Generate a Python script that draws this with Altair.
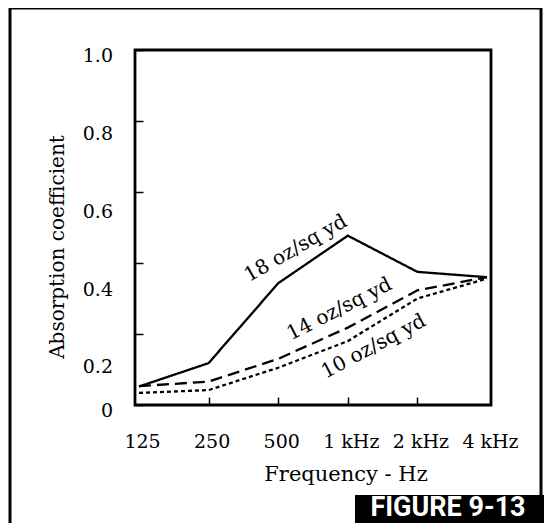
import altair as alt
import pandas as pd

# ---- data ----
freq_labels = ["125", "250", "500", "1 kHz", "2 kHz", "4 kHz"]
series_names = ["18 oz/sq yd", "14 oz/sq yd", "10 oz/sq yd"]
s18 = [0.052, 0.118, 0.343, 0.477, 0.375, 0.360]
s14 = [0.053, 0.066, 0.130, 0.218, 0.323, 0.360]
s10 = [0.034, 0.042, 0.105, 0.180, 0.300, 0.356]

y_tick_values = [0.0, 0.1, 0.2, 0.3, 0.4, 0.5, 0.6, 0.7, 0.8, 0.9, 1.0]
y_label_values = [1.0, 0.8, 0.6, 0.4, 0.2, 0.0]
y_label_texts = ["1.0", "0.8", "0.6", "0.4", "0.2", "0"]

curve_label_x = [2.25, 2.88, 3.37]
curve_label_y = [0.441, 0.270, 0.165]
curve_label_angle = [330, 333, 332]

y_title = "Absorption coefficient"
x_title = "Frequency - Hz"
figure_tag = "FIGURE 9-13"

# ---- tables ----
rows = []
for name, vals in zip(series_names, [s18, s14, s10]):
    for i, v in enumerate(vals):
        rows.append({"series": name, "idx": i, "value": v})
df = pd.DataFrame(rows)

ylab_df = pd.DataFrame({"v": y_label_values, "t": y_label_texts})
clab_df = pd.DataFrame({"name": series_names, "cx": curve_label_x,
                        "cy": curve_label_y, "ang": curve_label_angle})
one = pd.DataFrame({"k": [0]})

W, H = 356, 355
SERIF = "DejaVu Serif"

x_scale = alt.Scale(domain=[-0.0575, 5.0575], nice=False, zero=False)
y_scale = alt.Scale(domain=[0, 1], nice=False, zero=False)

label_expr = "[" + ",".join("'%s'" % l for l in freq_labels) + "][datum.value]"

x_axis = alt.Axis(
    values=list(range(len(freq_labels))), labelExpr=label_expr, orient="bottom",
    offset=-8, tickSize=8, tickWidth=1.5, tickColor="black", domain=False,
    grid=False, labelFont=SERIF, labelFontSize=19, labelColor="black",
    labelPadding=27, labelOffset=3, labelFlush=False, title=None,
    tickOpacity={"condition": {"test": "datum.value == 0 || datum.value == 5", "value": 0}, "value": 1},
)
y_axis = alt.Axis(
    values=y_tick_values, orient="left", offset=-8, tickSize=8, tickWidth=1.5,
    tickColor="black", domain=False, grid=False, labels=False, title=None,
)

lines = alt.Chart(df).mark_line(color="black", strokeWidth=2.3).encode(
    x=alt.X("idx:Q", scale=x_scale, axis=x_axis),
    y=alt.Y("value:Q", scale=y_scale, axis=y_axis),
    strokeDash=alt.StrokeDash("series:N", scale=alt.Scale(domain=series_names,
                              range=[[1, 0], [12, 6], [4, 3]]), legend=None),
    detail="series:N",
)

ylabels = alt.Chart(ylab_df).transform_calculate(
    pos="datum.v > 0 ? datum.v * 1.095 - 0.113 : -0.017"
).mark_text(align="right", baseline="middle", font=SERIF, fontSize=19, color="black").encode(
    x=alt.value(-22),
    y=alt.Y("pos:Q", scale=y_scale),
    text="t:N",
)

ytitle = alt.Chart(one).mark_text(
    text=y_title, angle=270, align="center", baseline="middle",
    font=SERIF, fontSize=20, color="black"
).encode(x=alt.value(-77), y=alt.value(197))

xtitle = alt.Chart(one).mark_text(
    text=x_title, align="center", baseline="alphabetic",
    font=SERIF, fontSize=21, color="black"
).encode(x=alt.value(211), y=alt.value(431))

clabels = alt.Chart(clab_df).mark_text(
    align="center", baseline="middle", font=SERIF, fontSize=20, color="black"
).encode(
    x=alt.X("cx:Q", scale=x_scale),
    y=alt.Y("cy:Q", scale=y_scale),
    angle=alt.Angle("ang:Q", scale=None),
    text="name:N",
)

frame = alt.Chart(one).mark_rect(fillOpacity=0, stroke="black", strokeWidth=3).encode(
    x=alt.value(-125), x2=alt.value(406), y=alt.value(-42), y2=alt.value(600)
)

tagbox = alt.Chart(one).mark_rect(color="black").encode(
    x=alt.value(220), x2=alt.value(420), y=alt.value(445), y2=alt.value(600)
)
tagtext = alt.Chart(one).mark_text(
    text=figure_tag, color="white", align="center", baseline="middle",
    font="Roboto", fontWeight="bold", fontSize=27
).encode(x=alt.value(313), y=alt.value(458))

chart = alt.layer(frame, lines, ylabels, ytitle, xtitle, clabels, tagbox, tagtext).properties(
    width=W, height=H,
    padding={"left": 127, "top": 42, "right": 53, "bottom": 118},
    autosize=alt.AutoSizeParams(type="none"),
    background="white",
).configure_view(stroke="black", strokeWidth=2.8)

chart.save("out.html", embed_options={"renderer": "svg", "actions": False})
